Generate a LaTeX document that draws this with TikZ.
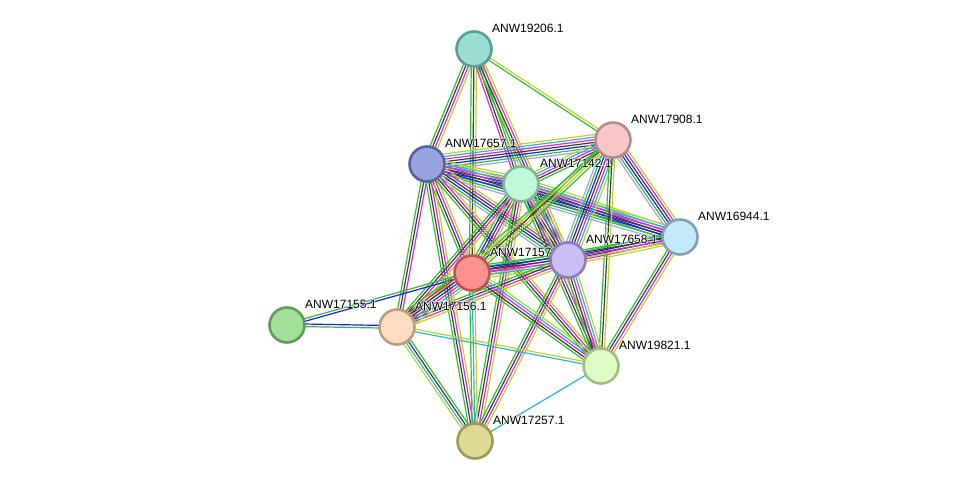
\documentclass[tikz,border=0pt]{standalone}
\usepackage{fontspec}
\setmainfont{Liberation Sans}
\usetikzlibrary{calc,backgrounds}
\definecolor{cgreen}{RGB}{50,190,50}
\definecolor{cblue}{RGB}{30,30,235}
\definecolor{cblack}{RGB}{60,60,60}
\definecolor{cmag}{RGB}{220,40,220}
\definecolor{ccyan}{RGB}{40,180,220}
\definecolor{cyel}{RGB}{190,210,40}
\definecolor{clav}{RGB}{160,160,250}
\definecolor{cred}{RGB}{240,40,20}
\newcommand\halo[1]{\leavevmode\rlap{\textcolor{white}{\kern-0.8pt #1}}\rlap{\textcolor{white}{\kern0.8pt #1}}\rlap{\textcolor{white}{\raisebox{0.8pt}{#1}}}\rlap{\textcolor{white}{\raisebox{-0.8pt}{#1}}}#1}
\newcommand\bund[3]{%
  \foreach \cc [count=\nn] in {#3} {\xdef\bundn{\nn}}
  \foreach \cc [count=\ii] in {#3} {
    \pgfmathsetmacro\off{(\ii-(\bundn+1)/2)*2.6}
    \draw[edge,\cc] ($(#1)!\off pt!90:(#2)$) -- ($(#2)!\off pt!-90:(#1)$);
  }}
\tikzset{
  prot/.style={circle,minimum size=35pt,inner sep=0pt,line width=2.6pt},
  lbl/.style={anchor=west,inner sep=0pt,font=\fontsize{12}{14}\selectfont},
  edge/.style={line width=1.2pt}
}
\begin{document}
\begin{tikzpicture}[x=1pt,y=-1pt]
\useasboundingbox (0,0) rectangle (976,487);
\node[prot,fill={rgb,255:red,153;green,221;blue,211},draw={rgb,255:red,90;green,158;blue,150}] (n19206) at (474,49) {};
\node[prot,fill={rgb,255:red,248;green,198;blue,198},draw={rgb,255:red,185;green,138;blue,138}] (n17908) at (613,140) {};
\node[prot,fill={rgb,255:red,153;green,163;blue,224},draw={rgb,255:red,90;green,98;blue,163}] (n17657) at (427,164) {};
\node[prot,fill={rgb,255:red,191;green,249;blue,216},draw={rgb,255:red,128;green,184;blue,151}] (n17142) at (521,184) {};
\node[prot,fill={rgb,255:red,195;green,233;blue,250},draw={rgb,255:red,127;green,162;blue,186}] (n16944) at (680,237) {};
\node[prot,fill={rgb,255:red,204;green,189;blue,245},draw={rgb,255:red,141;green,126;blue,183}] (n17658) at (568,260) {};
\node[prot,fill={rgb,255:red,255;green,144;blue,144},draw={rgb,255:red,186;green,86;blue,86}] (n17157) at (472,273) {};
\node[prot,fill={rgb,255:red,160;green,224;blue,154},draw={rgb,255:red,94;green,158;blue,88}] (n17155) at (287,325) {};
\node[prot,fill={rgb,255:red,253;green,220;blue,193},draw={rgb,255:red,188;green,157;blue,130}] (n17156) at (397,327) {};
\node[prot,fill={rgb,255:red,224;green,252;blue,196},draw={rgb,255:red,162;green,189;blue,134}] (n19821) at (601,366) {};
\node[prot,fill={rgb,255:red,222;green,218;blue,148},draw={rgb,255:red,158;green,154;blue,86}] (n17257) at (475,441) {};
\begin{scope}[on background layer]
\bund{n19206}{n17657}{cgreen,cblack,cmag,cyel}
\bund{n19206}{n17157}{cgreen,cblack,cyel}
\bund{n19206}{n17142}{cmag,cblack,cgreen,cyel}
\bund{n19206}{n17658}{cgreen,cblack,cmag,cyel}
\bund{n19206}{n17908}{cgreen,cyel}
\bund{n17657}{n17908}{clav,cgreen,cblue,cblack,cmag,ccyan,cyel}
\bund{n17657}{n17142}{cgreen,cblue,cblack,cmag,ccyan,cyel}
\bund{n17657}{n16944}{clav,cgreen,cblue,cblack,cmag,ccyan,cyel}
\bund{n17657}{n17658}{clav,cgreen,cblue,cblack,cmag,cyel}
\bund{n17657}{n17157}{cgreen,cblack,cmag,cyel}
\bund{n17657}{n17156}{cgreen,cblack,cmag}
\bund{n17657}{n17257}{cgreen,cblack,cmag,cyel}
\bund{n17657}{n19821}{cgreen,cblack,cmag,cyel}
\bund{n17142}{n17908}{cgreen,cblack,cmag,ccyan,cyel}
\bund{n17142}{n16944}{cgreen,cblue,cblack,cmag,ccyan,cyel}
\bund{n17142}{n17658}{cgreen,cblue,cblack,cmag,ccyan,cyel}
\bund{n17142}{n17157}{cgreen,cblue,cblack,cmag,cyel}
\bund{n17142}{n17156}{cgreen,cblack,cmag,cyel}
\bund{n17142}{n17257}{cgreen,cblack,cmag,cyel}
\bund{n17142}{n19821}{cgreen,cblack,cmag,cyel}
\bund{n17908}{n16944}{clav,cgreen,cblue,cblack,cmag,cyel}
\bund{n17908}{n17658}{clav,cgreen,cblue,cblack,cmag,ccyan,cyel}
\bund{n17908}{n17157}{cgreen,cblack,cyel,cgreen}
\bund{n17908}{n17156}{cgreen,cyel}
\bund{n17908}{n19821}{cgreen,cblack,cyel}
\bund{n16944}{n17658}{cgreen,cblue,cblack,cmag,cyel}
\bund{n16944}{n17157}{cgreen,cblack,cmag,cyel}
\bund{n16944}{n19821}{cgreen,cblack,cmag,cyel}
\bund{n17658}{n17157}{cgreen,cblue,cblack,cmag,ccyan,cyel}
\bund{n17658}{n17156}{cgreen,cblack,cmag,cyel}
\bund{n17658}{n19821}{cgreen,cblack,cmag,ccyan,cyel}
\bund{n17658}{n17257}{cgreen,cblack,cmag,cyel}
\bund{n17157}{n17155}{cgreen,cblue}
\bund{n17157}{n17156}{cgreen,cred,cblue,cblack,cmag,ccyan,cyel}
\bund{n17157}{n19821}{cgreen,cblack,cmag,ccyan,cyel}
\bund{n17157}{n17257}{cgreen,ccyan,cyel}
\bund{n17155}{n17156}{cgreen,cblue}
\bund{n17156}{n19821}{ccyan,cyel}
\bund{n17156}{n17257}{cyel,ccyan,cblack,cgreen}
\bund{n19821}{n17257}{ccyan}
\end{scope}
\node[lbl] (l19206) at (492,28) {\halo{ANW19206.1}};
\node[lbl] (l17908) at (631,119) {\halo{ANW17908.1}};
\node[lbl] (l17657) at (445,143) {\halo{ANW17657.1}};
\node[lbl] (l17142) at (540,163) {\halo{ANW17142.1}};
\node[lbl] (l16944) at (698,216) {\halo{ANW16944.1}};
\node[lbl] (l17658) at (586,239) {\halo{ANW17658.1}};
\node[lbl] (l17157) at (490,252) {\halo{ANW17157}};
\node[lbl] (l17155) at (305,304) {\halo{ANW17155.1}};
\node[lbl] (l17156) at (415,306) {\halo{ANW17156.1}};
\node[lbl] (l19821) at (619,345) {\halo{ANW19821.1}};
\node[lbl] (l17257) at (493,420) {\halo{ANW17257.1}};
\end{tikzpicture}
\end{document}
